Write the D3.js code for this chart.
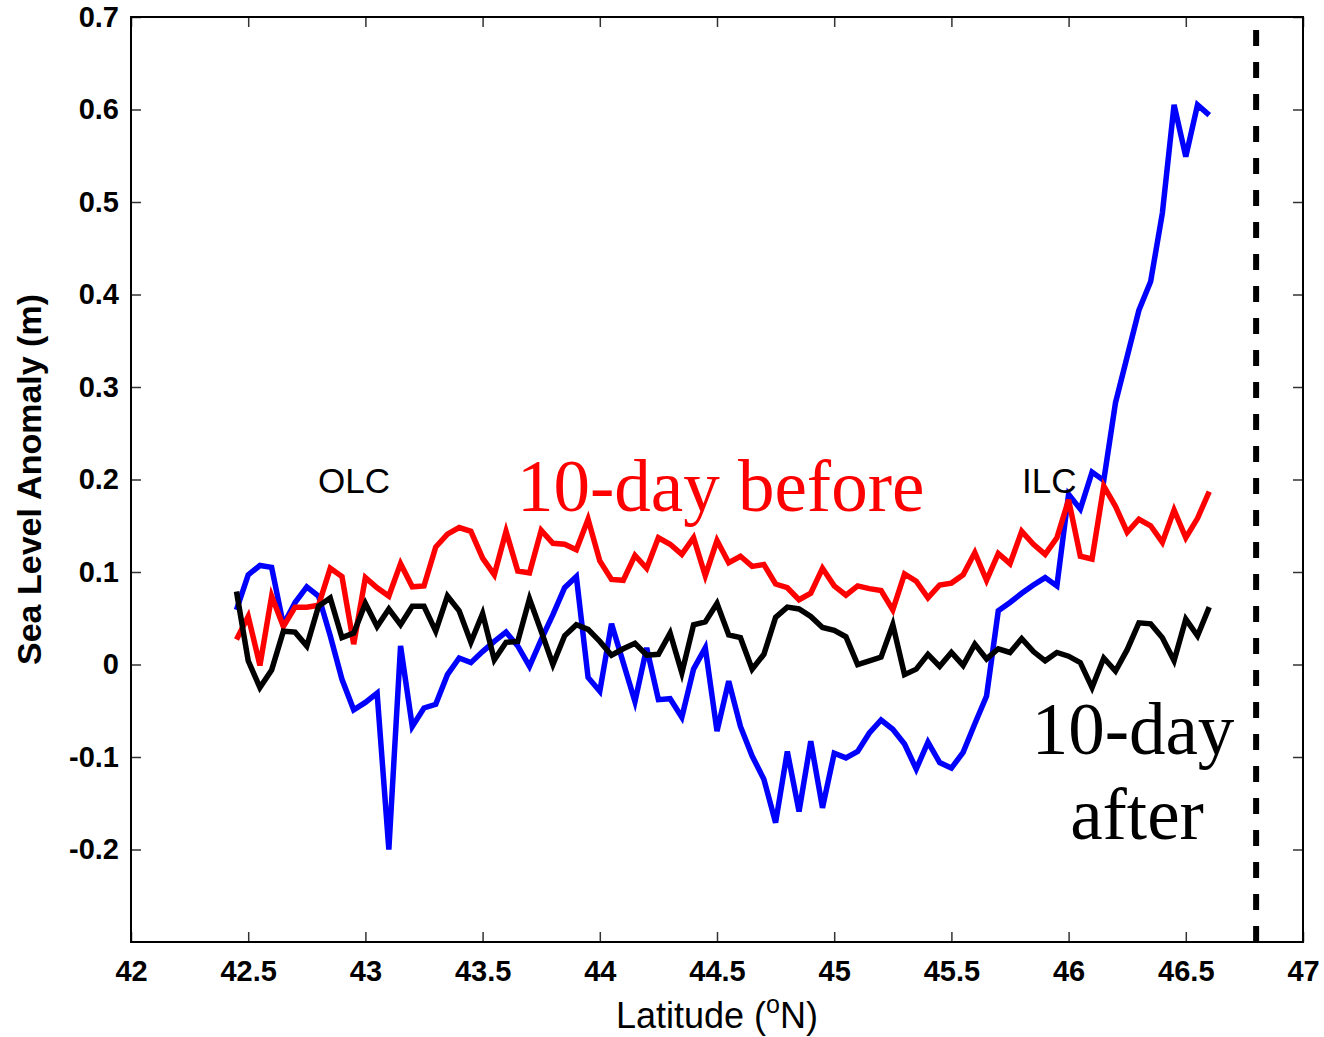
<!DOCTYPE html>
<html>
<head>
<meta charset="utf-8">
<script src="https://cdn.jsdelivr.net/npm/d3@7"></script>
<style>
  body { margin: 0; background: #fff; }
  svg { display: block; }
</style>
</head>
<body>
<svg id="chart"></svg>
<script>
const width = 1324;
const height = 1037;

// latitude grid of the transect (deg N)
const lats = [
  42.45, 42.50, 42.55, 42.60, 42.65, 42.70, 42.75, 42.80, 42.85, 42.90,
  42.95, 43.00, 43.05, 43.10, 43.15, 43.20, 43.25, 43.30, 43.35, 43.40,
  43.45, 43.50, 43.55, 43.60, 43.65, 43.70, 43.75, 43.80, 43.85, 43.90,
  43.95, 44.00, 44.05, 44.10, 44.15, 44.20, 44.25, 44.30, 44.35, 44.40,
  44.45, 44.50, 44.55, 44.60, 44.65, 44.70, 44.75, 44.80, 44.85, 44.90,
  44.95, 45.00, 45.05, 45.10, 45.15, 45.20, 45.25, 45.30, 45.35, 45.40,
  45.45, 45.50, 45.55, 45.60, 45.65, 45.70, 45.75, 45.80, 45.85, 45.90,
  45.95, 46.00, 46.05, 46.10, 46.15, 46.20, 46.25, 46.30, 46.35, 46.40,
  46.45, 46.50, 46.55, 46.60
];

// sea level anomaly (m), event day
const slaEvent = [
  0.059, 0.097, 0.107, 0.105, 0.043, 0.067, 0.084, 0.074, 0.031, -0.016,
  -0.049, -0.041, -0.031, -0.200, 0.020, -0.067, -0.047, -0.043, -0.011, 0.007,
  0.002, 0.014, 0.025, 0.035, 0.020, -0.002, 0.027, 0.054, 0.083, 0.095,
  -0.014, -0.029, 0.044, 0.002, -0.040, 0.018, -0.038, -0.037, -0.057, -0.005,
  0.018, -0.072, -0.018, -0.067, -0.099, -0.124, -0.171, -0.094, -0.159, -0.083,
  -0.155, -0.096, -0.101, -0.094, -0.074, -0.060, -0.070, -0.086, -0.113, -0.084,
  -0.106, -0.112, -0.095, -0.064, -0.034, 0.058, 0.067, 0.077, 0.086, 0.094,
  0.085, 0.184, 0.168, 0.208, 0.199, 0.283, 0.333, 0.383, 0.414, 0.488,
  0.605, 0.549, 0.605, 0.594
];

// 10 days before
const slaBefore = [
  0.027, 0.052, -0.001, 0.074, 0.041, 0.062, 0.062, 0.064, 0.104, 0.095,
  0.022, 0.094, 0.083, 0.074, 0.109, 0.084, 0.085, 0.127, 0.141, 0.148,
  0.144, 0.115, 0.097, 0.144, 0.101, 0.099, 0.145, 0.131, 0.130, 0.124,
  0.157, 0.112, 0.092, 0.091, 0.118, 0.104, 0.137, 0.130, 0.119, 0.137,
  0.096, 0.134, 0.110, 0.117, 0.106, 0.108, 0.087, 0.083, 0.070, 0.077,
  0.104, 0.085, 0.075, 0.085, 0.082, 0.080, 0.059, 0.098, 0.090, 0.072,
  0.086, 0.088, 0.097, 0.121, 0.091, 0.120, 0.109, 0.144, 0.130, 0.119,
  0.137, 0.178, 0.117, 0.114, 0.193, 0.171, 0.143, 0.157, 0.150, 0.132,
  0.167, 0.137, 0.158, 0.187
];

// 10 days after
const slaAfter = [
  0.079, 0.004, -0.025, -0.006, 0.036, 0.035, 0.020, 0.063, 0.072, 0.029,
  0.034, 0.066, 0.041, 0.060, 0.043, 0.063, 0.063, 0.036, 0.074, 0.058,
  0.024, 0.055, 0.005, 0.024, 0.025, 0.071, 0.036, 0.000, 0.031, 0.043,
  0.038, 0.025, 0.010, 0.017, 0.023, 0.010, 0.011, 0.034, -0.009, 0.043,
  0.046, 0.066, 0.032, 0.029, -0.005, 0.011, 0.051, 0.062, 0.060, 0.052,
  0.040, 0.037, 0.030, 0.000, 0.004, 0.008, 0.043, -0.011, -0.005, 0.011,
  -0.002, 0.013, -0.001, 0.022, 0.006, 0.017, 0.013, 0.028, 0.014, 0.004,
  0.013, 0.009, 0.002, -0.025, 0.007, -0.007, 0.016, 0.045, 0.044, 0.029,
  0.004, 0.049, 0.031, 0.062
];

const xTicks = [42, 42.5, 43, 43.5, 44, 44.5, 45, 45.5, 46, 46.5, 47];
const yTicks = [-0.2, -0.1, 0, 0.1, 0.2, 0.3, 0.4, 0.5, 0.6, 0.7];
const coastLat = 46.8;

const margin = { top: 17, right: 21, bottom: 95, left: 131 };
const innerW = width - margin.left - margin.right;
const innerH = height - margin.top - margin.bottom;

const svg = d3.select('#chart')
              .attr('width', width)
              .attr('height', height);

const g = svg.append('g')
             .attr('transform', `translate(${margin.left},${margin.top})`);

const x = d3.scaleLinear().domain([42, 47]).range([0, innerW]);
const y = d3.scaleLinear().domain([-0.3, 0.7]).range([innerH, 0]);

const tickFont = 'Liberation Sans, Arial, sans-serif';

// matlab style: plain hyphen for negatives, not the unicode minus
const yFmt = d => d === 0 ? '0' : d.toFixed(1).replace('\u2212', '-');

// axes: ticks pointing inward like matlab, labels bold
const xAxis = d3.axisBottom(x).tickValues(xTicks).tickSizeInner(-10).tickSizeOuter(0)
                .tickPadding(18).tickFormat(d => String(d));
const yAxis = d3.axisLeft(y).tickValues(yTicks).tickSizeInner(-10).tickSizeOuter(0)
                .tickPadding(12).tickFormat(yFmt);

const gx = g.append('g').attr('transform', `translate(0,${innerH})`).call(xAxis);
const gy = g.append('g').call(yAxis);
// mirrored ticks on top and right, no labels
const gxTop = g.append('g').call(d3.axisTop(x).tickValues(xTicks).tickSizeInner(-10).tickSizeOuter(0).tickFormat(''));
const gyRight = g.append('g').attr('transform', `translate(${innerW},0)`)
                 .call(d3.axisRight(y).tickValues(yTicks).tickSizeInner(-10).tickSizeOuter(0).tickFormat(''));

[gx, gy, gxTop, gyRight].forEach(a => {
  a.select('.domain').remove();
  a.selectAll('.tick line').attr('stroke', '#333').attr('stroke-width', 1.5);
});
[gx, gy].forEach(a => {
  a.selectAll('.tick text')
   .attr('fill', '#000')
   .style('font-family', tickFont)
   .style('font-weight', 'bold')
   .style('font-size', '29px');
});

// box
g.append('rect')
 .attr('width', innerW)
 .attr('height', innerH)
 .attr('fill', 'none')
 .attr('stroke', '#000')
 .attr('stroke-width', 2);

// coast line
g.append('line')
 .attr('x1', x(coastLat)).attr('x2', x(coastLat))
 .attr('y1', innerH).attr('y2', 0)
 .attr('stroke', '#000')
 .attr('stroke-width', 6)
 .attr('stroke-dasharray', '16,16');

const series = [
  { values: slaEvent, color: '#0000ff' },
  { values: slaBefore, color: '#ff0000' },
  { values: slaAfter, color: '#000000' },
];

const line = d3.line()
               .x(d => x(d[0]))
               .y(d => y(d[1]));

g.selectAll('path.sla')
 .data(series)
 .enter()
 .append('path')
   .attr('class', 'sla')
   .attr('d', s => line(lats.map((lat, i) => [lat, s.values[i]])))
   .attr('fill', 'none')
   .attr('stroke', s => s.color)
   .attr('stroke-width', 5.5)
   .attr('stroke-linejoin', 'miter');

// annotations
const note = (txt, px, py, opts) => {
  const t = svg.append('text')
               .attr('x', px).attr('y', py)
               .text(txt)
               .style('font-family', opts.font)
               .style('font-size', opts.size + 'px')
               .attr('fill', opts.color || '#000');
  if (opts.anchor) t.attr('text-anchor', opts.anchor);
  return t;
};

note('OLC', 318, 493, { font: tickFont, size: 35 });
note('ILC', 1022, 493, { font: tickFont, size: 35 });
note('10-day before', 517, 511, { font: 'Liberation Serif, Times New Roman, serif', size: 73, color: '#ff0000' });
note('10-day', 1133, 754, { font: 'Liberation Serif, Times New Roman, serif', size: 73, anchor: 'middle' });
note('after', 1137, 839, { font: 'Liberation Serif, Times New Roman, serif', size: 73, anchor: 'middle' });

// axis titles
const xTitle = svg.append('text')
                  .attr('x', margin.left + innerW / 2)
                  .attr('y', 1028)
                  .attr('text-anchor', 'middle')
                  .style('font-family', tickFont)
                  .style('font-size', '36px')
                  .attr('fill', '#000');
xTitle.append('tspan').text('Latitude (');
xTitle.append('tspan').text('o').attr('dy', -15).style('font-size', '25px');
xTitle.append('tspan').text('N)').attr('dy', 15);

svg.append('text')
   .attr('transform', `translate(41,${margin.top + innerH / 2}) rotate(-90)`)
   .attr('text-anchor', 'middle')
   .text('Sea Level Anomaly (m)')
   .style('font-family', tickFont)
   .style('font-size', '34px')
   .style('font-weight', 'bold')
   .attr('fill', '#000');
</script>
</body>
</html>
